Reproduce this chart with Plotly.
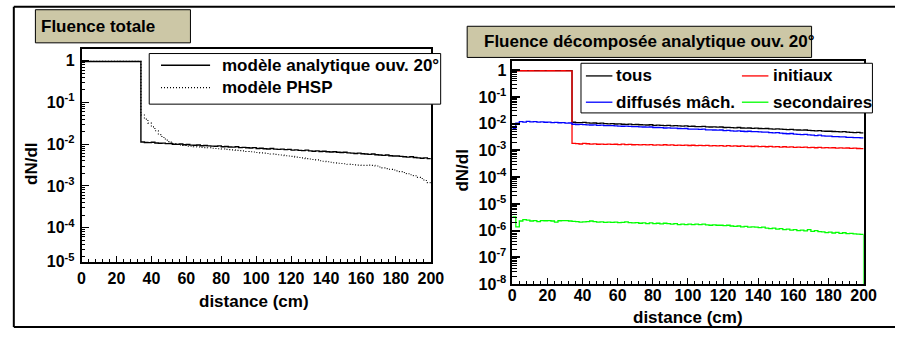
import plotly.graph_objects as go

W, H = 908, 338

# ---------------- data (2 cm bins, 0..200 cm) ----------------
bords_cm = list(range(0, 201, 2))

# modèle analytique ouv. 20° (= "tous"), units of 1e-3
analytique_e3 = [958, 962, 960, 957, 961, 963, 959, 960, 962, 958, 961, 960, 963, 959, 961, 960, 958,
                 11.3, 11.0, 10.9, 11.1, 10.7, 10.5, 10.6, 10.3, 10.4, 10.0,
                 9.9, 10.1, 9.7, 9.8, 9.5, 9.4, 9.6, 9.2, 9.3, 9.1,
                 9.0, 8.9, 9.1, 8.7, 8.8, 8.6, 8.5, 8.7, 8.3, 8.4,
                 8.2, 8.1, 8.3, 7.9, 8.0, 7.8, 7.7, 7.9, 7.6, 7.5,
                 7.6, 7.4, 7.5, 7.2, 7.3, 7.1, 7.0, 7.2, 6.9, 6.8,
                 6.9, 6.7, 6.8, 6.6, 6.5, 6.6, 6.4, 6.3, 6.4, 6.2,
                 6.1, 6.0, 6.1, 5.9, 5.8, 5.7, 5.8, 5.6, 5.5, 5.4,
                 5.5, 5.3, 5.2, 5.2, 5.1, 5.0, 4.9, 5.0, 4.8, 4.7,
                 4.6, 4.7, 4.5]

# modèle PHSP, units of 1e-3
phsp_e3 = [972, 975, 970, 974, 976, 971, 973, 975, 972, 974, 970, 976, 973, 971, 975, 974, 972,
           50, 40, 32, 26, 21, 17, 14.5, 12.5, 11.2, 10.4,
           9.9, 9.6, 9.3, 9.0, 8.9, 8.7, 8.6, 8.4, 8.3, 8.2,
           8.0, 7.9, 7.8, 7.7, 7.5, 7.4, 7.3, 7.1, 7.0, 6.9,
           6.7, 6.6, 6.5, 6.3, 6.2, 6.1, 6.0, 5.8, 5.7, 5.6,
           5.5, 5.3, 5.2, 5.1, 4.9, 4.8, 4.7, 4.5, 4.4, 4.3,
           4.2, 4.0, 3.9, 3.8, 3.7, 3.6, 3.5, 3.45, 3.4, 3.3,
           3.25, 3.2, 3.15, 3.1, 3.1, 3.15, 3.1, 3.0, 2.85, 2.7,
           2.6, 2.5, 2.4, 2.3, 2.2, 2.1, 1.95, 1.85, 1.75, 1.6,
           1.5, 1.35, 1.2]

# initiaux, units of 1e-3
initiaux_e3 = [940, 945, 950, 948, 944, 951, 947, 946, 949, 943, 950, 948, 945, 947, 949, 944, 946,
               1.85, 1.80, 1.74, 1.82, 1.78, 1.72, 1.77, 1.70, 1.73, 1.69,
               1.72, 1.67, 1.70, 1.66, 1.71, 1.64, 1.68, 1.63, 1.66, 1.62,
               1.65, 1.60, 1.64, 1.59, 1.62, 1.58, 1.63, 1.57, 1.60, 1.55,
               1.59, 1.54, 1.58, 1.53, 1.56, 1.52, 1.55, 1.50, 1.54, 1.49,
               1.52, 1.47, 1.51, 1.46, 1.50, 1.45, 1.48, 1.43, 1.47, 1.42,
               1.45, 1.40, 1.44, 1.39, 1.42, 1.37, 1.41, 1.36, 1.39, 1.34,
               1.37, 1.32, 1.36, 1.31, 1.34, 1.29, 1.32, 1.28, 1.31, 1.26,
               1.29, 1.25, 1.28, 1.24, 1.26, 1.22, 1.25, 1.21, 1.23, 1.20,
               1.22, 1.18, 1.17]

# diffusés mâch., units of 1e-3
diffuses_e3 = [6.5, 10.5, 12.0, 11.4, 12.1, 11.7, 11.9, 11.5, 11.7, 11.3,
               11.4, 11.0, 11.2, 10.8, 10.9, 10.5, 10.6, 9.5, 9.3, 9.4,
               9.2, 9.0, 8.9, 9.0, 8.7, 8.8, 8.5, 8.4, 8.5, 8.2,
               8.1, 8.0, 8.1, 7.9, 7.7, 7.8, 7.6, 7.5, 7.4, 7.5,
               7.2, 7.2, 7.1, 6.9, 7.0, 6.8, 6.8, 6.6, 6.5, 6.6,
               6.3, 6.3, 6.2, 6.1, 6.2, 5.9, 5.9, 5.8, 5.7, 5.8,
               5.5, 5.6, 5.4, 5.3, 5.4, 5.2, 5.1, 5.2, 5.0, 5.0,
               4.9, 4.8, 4.8, 4.6, 4.5, 4.6, 4.4, 4.3, 4.2, 4.3,
               4.1, 4.0, 3.9, 4.0, 3.8, 3.7, 3.6, 3.7, 3.5, 3.4,
               3.4, 3.3, 3.3, 3.2, 3.2, 3.1, 3.1, 3.0, 3.0, 2.95]

# secondaires, units of 1e-6
secondaires_e6 = [3.3, 1.4, 2.3, 2.6, 2.5, 2.3, 2.4, 2.2, 2.4, 2.35,
                  2.4, 2.3, 2.1, 2.35, 2.4, 2.4, 2.3, 2.25, 2.2, 2.1,
                  2.15, 2.2, 2.3, 2.2, 2.1, 2.15, 2.05, 2.1, 2.05, 2.1,
                  2.0, 2.05, 2.15, 2.0, 1.95, 2.0, 1.9, 1.95, 1.85, 1.95,
                  1.85, 1.9, 1.8, 1.9, 1.85, 1.75, 1.85, 1.7, 1.75, 1.7,
                  1.75, 1.7, 1.75, 1.7, 1.75, 1.65, 1.6, 1.65, 1.6, 1.6,
                  1.55, 1.6, 1.5, 1.45, 1.5, 1.4, 1.45, 1.35, 1.4, 1.35,
                  1.3, 1.35, 1.25, 1.2, 1.25, 1.15, 1.2, 1.1, 1.15, 1.05,
                  1.1, 1.0, 1.05, 0.98, 1.1, 0.95, 1.0, 0.92, 0.9, 0.85,
                  0.88, 0.82, 0.86, 0.8, 0.84, 0.78, 0.8, 0.76, 0.75, 0.73]

x_ticks = [0, 20, 40, 60, 80, 100, 120, 140, 160, 180, 200]

# ---------------- helpers ----------------
FONT = "Liberation Sans, Arial, Helvetica, sans-serif"
DOTS = "1px,2px"


def px(x):
    return x / W


def py(y):
    return 1 - y / H


def marches(vals, unite):
    y = [v * unite for v in vals]
    return list(bords_cm), y + [y[-1]]


def log_minor(lo, hi):
    out = []
    for e in range(lo, hi + 1):
        for k in range(2, 10):
            out.append(k * 10.0 ** e)
    return out


def sup(e):
    return "1" if e == 0 else "10<sup>%d</sup>" % e


fig = go.Figure()

# ---- left panel ----
x, y = marches(analytique_e3, 1e-3)
fig.add_trace(go.Scatter(x=x, y=y, mode="lines", line=dict(color="black", width=1.4, shape="hv"),
                         xaxis="x", yaxis="y"))
x, y = marches(phsp_e3, 1e-3)
fig.add_trace(go.Scatter(x=x, y=y, mode="lines", line=dict(color="black", width=1.1, shape="hv", dash=DOTS),
                         xaxis="x", yaxis="y"))

# ---- right panel ----
YMIN2 = -8
x, y = marches(analytique_e3, 1e-3)
fig.add_trace(go.Scatter(x=x, y=y, mode="lines", line=dict(color="black", width=1.3, shape="hv"),
                         xaxis="x2", yaxis="y2"))
x, y = marches(initiaux_e3, 1e-3)
fig.add_trace(go.Scatter(x=x, y=y, mode="lines", line=dict(color="#ff0000", width=1.3, shape="hv"),
                         xaxis="x2", yaxis="y2"))
x, y = marches(diffuses_e3, 1e-3)
fig.add_trace(go.Scatter(x=x, y=y, mode="lines", line=dict(color="#0000ff", width=1.3, shape="hv"),
                         xaxis="x2", yaxis="y2"))
x, y = marches(secondaires_e6, 1e-6)
x = x + [x[-1]]
y = y + [10.0 ** YMIN2]
fig.add_trace(go.Scatter(x=x, y=y, mode="lines", line=dict(color="#00ff00", width=1.3, shape="hv"),
                         xaxis="x2", yaxis="y2"))

tickfont = dict(family=FONT, size=16, color="black", weight="bold")


def common_x(standoff):
    return dict(range=[0, 200], tickvals=x_ticks, ticks="inside", ticklen=6, tickwidth=1,
                tickcolor="black", showline=True, mirror=True, linecolor="black", linewidth=1.5,
                showgrid=False, zeroline=False, tickfont=tickfont, ticklabelstandoff=standoff,
                minor=dict(ticks="inside", ticklen=3, tickwidth=1, tickcolor="black", dtick=4, tick0=0,
                           showgrid=False))


# left y axis: picture shows decade labels 1..1e-4 and a "10^-5" label at the bottom edge
Y1_LO, Y1_HI = -4.82, 0.29
ytv1 = [10.0 ** e for e in range(0, -5, -1)] + [10.0 ** Y1_LO]
ytt1 = [sup(e) for e in range(0, -5, -1)] + [sup(-5)]

fig.update_layout(
    width=W, height=H, margin=dict(l=0, r=0, t=0, b=0),
    paper_bgcolor="white", plot_bgcolor="white", showlegend=False,
    xaxis=dict(domain=[px(79), px(435)], anchor="y", **common_x(1)),
    yaxis=dict(type="log", domain=[py(269), py(50)], anchor="x", range=[Y1_LO, Y1_HI],
               tickvals=ytv1, ticktext=ytt1, ticks="inside", ticklen=8, tickwidth=1, tickcolor="black",
               showline=True, mirror=True, linecolor="black", linewidth=1.5, showgrid=False,
               zeroline=False, tickfont=tickfont, ticklabelstandoff=2,
               minor=dict(tickvals=[v for v in log_minor(-5, -1) if v > 10 ** Y1_LO and v < 10 ** Y1_HI],
                          ticks="inside", ticklen=4, tickwidth=1, tickcolor="black", showgrid=False)),
    xaxis2=dict(domain=[px(518), px(876)], anchor="y2", **common_x(-4)),
    yaxis2=dict(type="log", domain=[py(292), py(63)], anchor="x2", range=[YMIN2, 0.33],
                tickvals=[10.0 ** e for e in range(0, -9, -1)], ticktext=[sup(e) for e in range(0, -9, -1)],
                ticks="inside", ticklen=8, tickwidth=2, tickcolor="black",
                showline=True, mirror=True, linecolor="black", linewidth=1.5, showgrid=False,
                zeroline=False, tickfont=tickfont, ticklabelstandoff=1,
                minor=dict(tickvals=log_minor(-8, -1), ticks="inside", ticklen=5, tickwidth=1,
                           tickcolor="black", showgrid=False)),
)

shapes = []
ann = []


def line(x0, y0, x1, y1, color="black", width=2, dash="solid"):
    shapes.append(dict(type="line", xref="paper", yref="paper", x0=px(x0), y0=py(y0), x1=px(x1), y1=py(y1),
                       line=dict(color=color, width=width, dash=dash), layer="above"))


def rect(x0, y0, x1, y1, fill, width=1):
    shapes.append(dict(type="rect", xref="paper", yref="paper", x0=px(x0), y0=py(y0), x1=px(x1), y1=py(y1),
                       fillcolor=fill, line=dict(color="black", width=width), layer="above"))


def text(x, y, s, xanchor="left", size=17, angle=0):
    ann.append(dict(xref="paper", yref="paper", x=px(x), y=py(y), text=s, showarrow=False,
                    xanchor=xanchor, yanchor="middle", textangle=angle, borderpad=0,
                    font=dict(family=FONT, size=size, color="black", weight="bold")))


# outer frame
line(10, 7, 908, 7)
line(10, 7, 10, 336)
line(10, 336, 908, 336)

# title boxes
TAN = "#ccc7a6"
rect(32, 10, 190, 44, TAN)
text(37, 27, "Fluence totale")
rect(472, 27, 823, 59, TAN)
text(488, 43, "Fluence décomposée analytique ouv. 20°")

# left legend
rect(148, 55, 445, 107, "white")
line(160, 67, 210, 67, width=1.4)
line(160, 90, 210, 90, width=1.1, dash=DOTS)
text(221, 67, "modèle analytique ouv. 20°")
text(221, 90, "modèle PHSP")

# right legend
rect(588, 65, 885, 116, "white")
line(593, 78, 620, 78, color="black", width=1.3)
text(623, 78, "tous")
line(752, 78, 779, 78, color="#ff0000", width=1.3)
text(783, 78, "initiaux")
line(593, 105, 620, 105, color="#0000ff", width=1.3)
text(623, 105, "diffusés mâch.")
line(752, 105, 779, 105, color="#00ff00", width=1.3)
text(783, 105, "secondaires")

# axis titles
text(255, 310, "distance (cm)", xanchor="center")
text(697, 326, "distance (cm)", xanchor="center")
text(28, 168, "dN/dl", xanchor="center", angle=-90)
text(467, 175, "dN/dl", xanchor="center", angle=-90)

fig.update_layout(shapes=shapes, annotations=ann)
fig.write_html("out.html")
